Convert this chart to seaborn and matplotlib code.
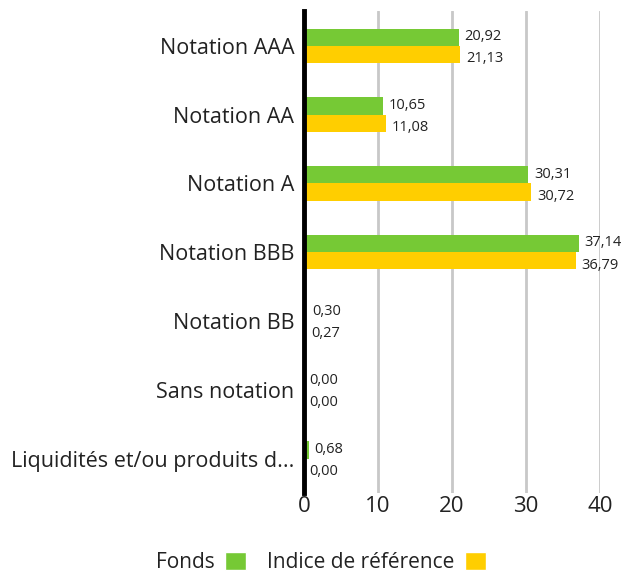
import matplotlib
matplotlib.use("Agg")
import matplotlib.pyplot as plt
import seaborn as sns
import pandas as pd
from matplotlib.patches import Patch

categories = ["Notation AAA", "Notation AA", "Notation A", "Notation BBB",
              "Notation BB", "Sans notation", "Liquidités et/ou produits d..."]
fonds = [20.92, 10.65, 30.31, 37.14, 0.30, 0.00, 0.68]
indice = [21.13, 11.08, 30.72, 36.79, 0.27, 0.00, 0.00]
series = ["Fonds", "Indice de référence"]
colors = ["#76c935", "#ffce00"]
xticks = [0, 10, 20, 30, 40]

sns.set_theme(style="white")
plt.rcParams['font.family'] = ['Open Sans', 'DejaVu Sans']

df = pd.DataFrame({
    "cat": categories * 2,
    "val": fonds + indice,
    "serie": [series[0]] * len(categories) + [series[1]] * len(categories),
})

fig = plt.figure(figsize=(6.23, 5.72), dpi=100)
ax = fig.add_axes([0.488, 0.138, 0.475, 0.842])
sns.barplot(data=df, y="cat", x="val", hue="serie", orient="h",
            palette=colors, width=0.5, ax=ax, legend=False, saturation=1,
            linewidth=0)

for cont, vals, dy in zip(ax.containers, [fonds, indice], [0.5, -3.0]):
    texts = ax.bar_label(cont, labels=[f"{v:.2f}".replace(".", ",") for v in vals],
                         padding=4, fontsize=10.5, color="#222222")
    for t in texts:
        x0, _ = t.xyann
        t.xyann = (x0, dy)

ax.set_xlim(0, 40)
ax.set_ylim(6.5, -0.5)
ax.set_xticks(xticks)
ax.set_xticklabels([str(t) for t in xticks], fontsize=16, color="#222222")
ax.tick_params(axis="y", labelsize=15.5, colors="#222222", length=0, pad=7)
ax.tick_params(axis="x", length=0, pad=2)
ax.set_xlabel("")
ax.set_ylabel("")
for s in ["top", "right", "bottom"]:
    ax.spines[s].set_visible(False)
ax.spines["left"].set_color("black")
ax.spines["left"].set_linewidth(3.5)
ax.spines["left"].set_zorder(5)
for t in xticks[1:]:
    ax.axvline(t, color="#c8c8c8", lw=2, zorder=0)
ax.set_axisbelow(True)

handles = [Patch(facecolor=c, label=s) for c, s in zip(colors, series)]
fig.legend(handles=handles, loc="lower center", bbox_to_anchor=(0.515, -0.035),
           ncol=2, frameon=False, markerfirst=False, fontsize=15,
           handlelength=1.0, handleheight=1.0, handletextpad=0.5, columnspacing=1.0,
           labelcolor="#222222")

fig.savefig("out.png", dpi=100)
